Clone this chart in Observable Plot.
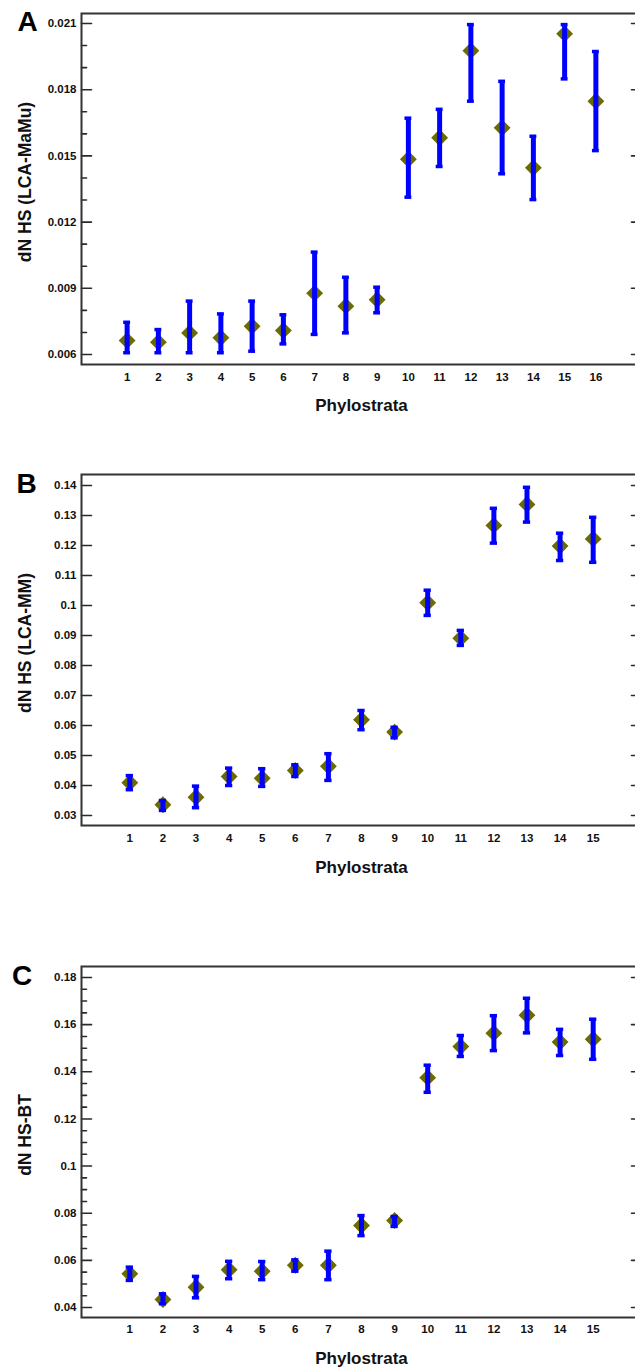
<!DOCTYPE html>
<html>
<head>
<meta charset="utf-8">
<script src="https://cdn.jsdelivr.net/npm/d3@7"></script>
<script src="https://cdn.jsdelivr.net/npm/@observablehq/plot@0.6"></script>
<style>
  html, body { margin: 0; padding: 0; background: #fff; overflow: hidden; }
  #wrap { position: relative; width: 635px; height: 1369px; overflow: hidden; }
  .panel { position: absolute; left: 0; max-width: none !important; }
</style>
</head>
<body>
<div id="wrap"></div>
<script>
// ---------- Panel A data ----------
const catsA = [1,2,3,4,5,6,7,8,9,10,11,12,13,14,15,16];
const meanA = [0.00663,0.00656,0.00698,0.00676,0.00728,0.00709,0.00878,0.00819,0.00848,0.01485,0.01582,0.01977,0.01627,0.01446,0.02053,0.01748];
const lowA  = [0.00608,0.00608,0.00608,0.00608,0.00615,0.00648,0.00691,0.00698,0.00789,0.01313,0.01452,0.01748,0.01419,0.01302,0.01849,0.01524];
const highA = [0.00746,0.00713,0.00842,0.00784,0.00842,0.00780,0.01064,0.00950,0.00905,0.01671,0.01711,0.02095,0.01838,0.01589,0.02095,0.01973];
const ticksA = [0.006,0.009,0.012,0.015,0.018,0.021];
const minorA = [0.007,0.008,0.010,0.011,0.013,0.014,0.016,0.017,0.019,0.020];
const domainA = [0.005547,0.021453];

// ---------- Panel B data ----------
const catsB = [1,2,3,4,5,6,7,8,9,10,11,12,13,14,15];
const meanB = [0.0409,0.0336,0.0361,0.0430,0.0424,0.0450,0.0464,0.0619,0.0578,0.1009,0.0891,0.1267,0.1337,0.1198,0.1222];
const lowB  = [0.0386,0.0317,0.0326,0.0400,0.0397,0.0430,0.0417,0.0586,0.0559,0.0967,0.0867,0.1208,0.1278,0.1150,0.1144];
const highB = [0.0433,0.0350,0.0398,0.0458,0.0456,0.0469,0.0506,0.0650,0.0594,0.1051,0.0917,0.1324,0.1394,0.1241,0.1294];
const ticksB = [0.03,0.04,0.05,0.06,0.07,0.08,0.09,0.10,0.11,0.12,0.13,0.14];
const minorB = [];
const domainB = [0.026667,0.143667];

// ---------- Panel C data ----------
const catsC = [1,2,3,4,5,6,7,8,9,10,11,12,13,14,15];
const meanC = [0.0543,0.0434,0.0486,0.0560,0.0554,0.0579,0.0579,0.0748,0.0769,0.1375,0.1507,0.1564,0.1640,0.1526,0.1538];
const lowC  = [0.0515,0.0416,0.0441,0.0522,0.0518,0.0554,0.0518,0.0705,0.0744,0.1313,0.1465,0.1490,0.1565,0.1469,0.1453];
const highC = [0.0571,0.0458,0.0532,0.0596,0.0595,0.0602,0.0639,0.0790,0.0786,0.1428,0.1554,0.1638,0.1712,0.1580,0.1623];
const ticksC = [0.04,0.06,0.08,0.10,0.12,0.14,0.16,0.18];
const minorC = [0.045,0.05,0.055,0.065,0.07,0.075,0.085,0.09,0.095,0.105,0.11,0.115,0.125,0.13,0.135,0.145,0.15,0.155,0.165,0.17,0.175];
const domainC = [0.035757,0.184667];

const xLabel = "Phylostrata";
const yLabels = ["dN HS (LCA-MaMu)", "dN HS (LCA-MM)", "dN HS-BT"];
const letters = ["A", "B", "C"];

const tickShape = {draw(ctx, l) { ctx.moveTo(0, 0); ctx.lineTo(0, -l); }};
const fmt = d => String(+d.toFixed(4));

function panel(cfg) {
  const data = cfg.cats.map((c, i) => ({x: c, mean: cfg.mean[i], lo: cfg.low[i], hi: cfg.high[i]}));
  const n = cfg.cats.length;
  const xDomain = [cfg.cats[0] - 1.46, cfg.cats[n - 1] + 1.46];
  const axisColor = "#2a2a2a";
  const chart = Plot.plot({
    width: 645,
    height: cfg.height,
    marginTop: cfg.mt,
    marginBottom: cfg.mb,
    marginLeft: 81,
    marginRight: 4,
    style: {fontFamily: "'Liberation Sans', Arial, sans-serif", fontWeight: "bold", fontSize: "11px", color: "#111", background: "transparent", maxWidth: "none"},
    x: {domain: xDomain, axis: null},
    y: {domain: cfg.domain, axis: null},
    marks: [
      Plot.axisX({ticks: cfg.cats, tickSize: 0, tickPadding: cfg.xpad, tickFormat: d => String(d), label: null, fontSize: 11.5, fontWeight: "bold"}),
      Plot.axisY({ticks: cfg.ticks, tickSize: 0, tickPadding: 5, tickFormat: fmt, label: null, fontSize: 11.5, fontWeight: "bold"}),
      // inward tick marks, left and right
      Plot.vector(cfg.ticks, {y: d => d, frameAnchor: "left", rotate: 90, length: 10, anchor: "start", shape: tickShape, stroke: axisColor, strokeWidth: 1.6}),
      Plot.vector(cfg.minor, {y: d => d, frameAnchor: "left", rotate: 90, length: 5, anchor: "start", shape: tickShape, stroke: axisColor, strokeWidth: 1.6}),
      Plot.vector(cfg.ticks, {y: d => d, frameAnchor: "right", rotate: -90, length: 10, anchor: "start", shape: tickShape, stroke: axisColor, strokeWidth: 1.6}),
      Plot.vector(cfg.minor, {y: d => d, frameAnchor: "right", rotate: -90, length: 5, anchor: "start", shape: tickShape, stroke: axisColor, strokeWidth: 1.6}),
      Plot.frame({stroke: "#333", strokeWidth: 2}),
      // diamonds
      Plot.dot(data, {x: "x", y: "mean", symbol: "diamond2", r: 7.6, fill: "#6b6b00", stroke: null}),
      // error bars
      Plot.ruleX(data, {x: "x", y1: "lo", y2: "hi", stroke: "#0000ff", strokeWidth: 5}),
      Plot.ruleY(data, {y: "lo", x1: d => d.x - 0.11, x2: d => d.x + 0.11, stroke: "#0000ff", strokeWidth: 3.5}),
      Plot.ruleY(data, {y: "hi", x1: d => d.x - 0.11, x2: d => d.x + 0.11, stroke: "#0000ff", strokeWidth: 3.5}),
      // x title
      Plot.text([xLabel], {frameAnchor: "bottom", textAnchor: "middle", lineAnchor: "middle", dx: 0, dy: cfg.xtitleDy, fontSize: 17, fontWeight: "bold", fill: "#111"}),
      // y title
      Plot.text([cfg.ylabel], {frameAnchor: "left", rotate: -90, textAnchor: "middle", lineAnchor: "middle", dx: -56, dy: -7, fontSize: 17.5, fontWeight: "bold", fill: "#111"}),
      // panel letter
      Plot.text([cfg.letter], {frameAnchor: "top-left", textAnchor: "middle", lineAnchor: "middle", dx: cfg.letterDx, dy: cfg.letterDy, fontSize: 28, fontWeight: "bold", fill: "#000"})
    ]
  });
  chart.classList.add("panel");
  chart.style.top = cfg.top + "px";
  chart.style.maxWidth = "none";
  chart.style.width = "645px";
  document.getElementById("wrap").appendChild(chart);
}

panel({cats: catsA, mean: meanA, low: lowA, high: highA, ticks: ticksA, minor: minorA, domain: domainA,
  top: 0, height: 420, mt: 13, mb: 56, xpad: 8, xtitleDy: 41, ylabel: yLabels[0], letter: letters[0], letterDx: -54, letterDy: 9});
panel({cats: catsB, mean: meanB, low: lowB, high: highB, ticks: ticksB, minor: minorB, domain: domainB,
  top: 460, height: 420, mt: 14, mb: 55, xpad: 8, xtitleDy: 42, ylabel: yLabels[1], letter: letters[1], letterDx: -55, letterDy: 10});
panel({cats: catsC, mean: meanC, low: lowC, high: highC, ticks: ticksC, minor: minorC, domain: domainC,
  top: 950, height: 419, mt: 16, mb: 52, xpad: 7, xtitleDy: 41, ylabel: yLabels[2], letter: letters[2], letterDx: -59.5, letterDy: 10});
</script>
</body>
</html>
